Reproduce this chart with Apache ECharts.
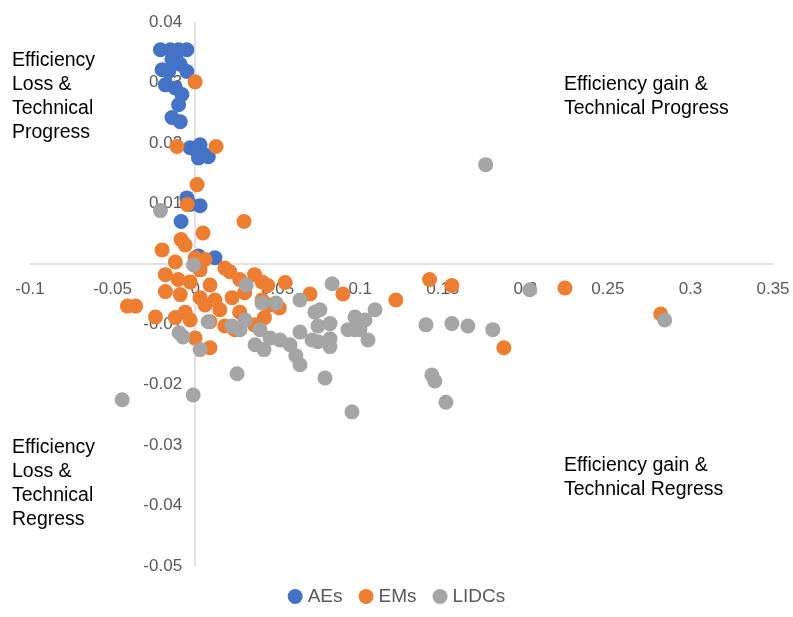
<!DOCTYPE html>
<html>
<head>
<meta charset="utf-8">
<script src="https://cdn.jsdelivr.net/npm/echarts@6/dist/echarts.min.js"></script>
<style>html,body{margin:0;padding:0;background:#fff}#chart{width:793px;height:617px}</style>
</head>
<body>
<div id="chart"></div>
<script>
// data points: [efficiency change, technical change]
var aes = [
  [-0.021,0.0354],[-0.015,0.0354],[-0.010,0.0354],[-0.005,0.0354],[-0.0115,0.0346],[-0.014,0.0338],
  [-0.020,0.0321],[-0.016,0.0318],[-0.009,0.033],[-0.005,0.0318],[-0.018,0.0296],[-0.012,0.0291],
  [-0.008,0.028],[-0.010,0.0263],[-0.014,0.0242],[-0.009,0.0235],[-0.003,0.0192],[0,0.0189],
  [0.003,0.0197],[0.002,0.0175],[0.006,0.018],[0.008,0.0177],[-0.005,0.0109],[-0.003,0.0098],
  [0.003,0.0096],[-0.0085,0.007],[0.002,0.0013],[0.012,0.001]
];
var ems = [
  [0,0.0301],[-0.011,0.0194],[0.0127,0.0194],[0.0012,0.0131],[-0.0048,0.0098],[0.0296,0.007],
  [0.0048,0.0051],[-0.0085,0.004],[-0.006,0.0031],[-0.02,0.0023],[0,0.001],[0.006,0.0007],
  [0.018,-0.0007],[-0.018,-0.0018],[-0.0103,-0.0026],[-0.003,-0.003],[0.003,-0.001],[0.009,-0.0035],
  [0.021,-0.0013],[0.027,-0.0026],[0.036,-0.0018],[0.0405,-0.003],[0.044,-0.0036],[0.0545,-0.0031],
  [-0.018,-0.0046],[-0.009,-0.0051],[0.003,-0.0056],[0.012,-0.006],[0.0224,-0.0056],[0.03,-0.0048],
  [0.0405,-0.006],[-0.041,-0.007],[-0.036,-0.007],[-0.024,-0.0088],[-0.006,-0.008],[0.006,-0.0068],
  [0.015,-0.0076],[0.027,-0.008],[0.045,-0.0068],[0.051,-0.0073],[-0.012,-0.0089],[-0.003,-0.0093],
  [0.009,-0.0096],[0.018,-0.0103],[0.024,-0.0109],[0.036,-0.0101],[0.042,-0.0089],[0,-0.0123],
  [0.009,-0.0139],[0.0696,-0.005],[0.0895,-0.005],[0.1216,-0.006],[0.142,-0.0026],[0.1555,-0.0036],
  [0.224,-0.004],[0.282,-0.0083],[0.187,-0.0139],[-0.012,0.0003]
];
var lidcs = [
  [-0.021,0.0088],[-0.001,-0.0002],[0.031,-0.0035],[0.0405,-0.0065],[0.049,-0.0065],[0.0635,-0.006],
  [0.083,-0.0033],[0.0726,-0.008],[0.0756,-0.0076],[0.0708,-0.0126],[0.0744,-0.0103],[0.0817,-0.0099],
  [0.0817,-0.0137],[0.0744,-0.0129],[0.0635,-0.0113],[0.0968,-0.0088],[0.0968,-0.0109],[0.1029,-0.0093],
  [0.1047,-0.0126],[0.109,-0.0076],[0.0998,-0.0109],[0.0926,-0.0109],[0.095,-0.0245],[0.0787,-0.0189],
  [0.061,-0.0152],[0.0635,-0.0167],[0.0575,-0.0134],[0.0514,-0.0126],[0.0454,-0.0123],[0.0393,-0.0109],
  [0.0363,-0.0134],[0.0272,-0.0109],[0.0303,-0.0093],[0.0224,-0.0103],[0.0079,-0.0096],[0.003,-0.0142],
  [-0.0097,-0.0114],[-0.0073,-0.0121],[-0.0012,-0.0217],[0.0254,-0.0182],[-0.0442,-0.0225],[0.1398,-0.0101],
  [0.1555,-0.0099],[0.1652,-0.0103],[0.1803,-0.0109],[0.1434,-0.0184],[0.1452,-0.0194],[0.1519,-0.0229],
  [0.176,0.0164],[0.2027,-0.0043],[0.2844,-0.0093],[0.0417,-0.0142],[0.0817,-0.0124]
];
var colors = ['#4472c4', '#ed7d31', '#a5a5a5'];

var chart = echarts.init(document.getElementById('chart'));
var labelStyle = { color: '#595959', fontSize: 17, fontFamily: 'Liberation Sans, Arial' };
var quadText = { fontSize: 19.5, fill: '#000', fontFamily: 'Liberation Sans, Arial', lineHeight: 24 };

// plot area: 743 x 544 px; zero lines sit inside it, axes shifted there by offset
chart.setOption({
  animation: false,
  color: colors,
  grid: { left: 30, right: 20, top: 22, bottom: 51, containLabel: false, outerBoundsMode: 'none' },
  xAxis: {
    type: 'value', min: -0.1, max: 0.35, interval: 0.05,
    offset: -544 * 5 / 9,
    axisLine: { onZero: false, lineStyle: { color: '#d9d9d9', width: 1.5 } },
    axisTick: { show: false }, splitLine: { show: false },
    axisLabel: Object.assign({ margin: 17, formatter: function (v) { return +v.toFixed(2); } }, labelStyle)
  },
  yAxis: {
    type: 'value', min: -0.05, max: 0.04, interval: 0.01,
    offset: -743 * 2 / 9,
    axisLine: { onZero: false, lineStyle: { color: '#d9d9d9', width: 1.5 } },
    axisTick: { show: false }, splitLine: { show: false },
    axisLabel: Object.assign({ margin: 13, formatter: function (v) { return +v.toFixed(2); } }, labelStyle)
  },
  legend: {
    bottom: 6, left: 'center', itemWidth: 15, itemHeight: 15, icon: 'circle', itemGap: 16,
    textStyle: { color: '#595959', fontSize: 19, fontFamily: 'Liberation Sans, Arial' },
    data: ['AEs', 'EMs', 'LIDCs']
  },
  graphic: [
    { type: 'text', left: 12, top: 49, style: Object.assign({ text: 'Efficiency\nLoss &\nTechnical\nProgress' }, quadText) },
    { type: 'text', left: 564, top: 73, style: Object.assign({ text: 'Efficiency gain &\nTechnical Progress' }, quadText) },
    { type: 'text', left: 12, top: 436, style: Object.assign({ text: 'Efficiency\nLoss &\nTechnical\nRegress' }, quadText) },
    { type: 'text', left: 564, top: 454, style: Object.assign({ text: 'Efficiency gain &\nTechnical Regress' }, quadText) }
  ],
  series: [
    { name: 'AEs', type: 'scatter', symbolSize: 15, itemStyle: { opacity: 1 }, data: aes },
    { name: 'EMs', type: 'scatter', symbolSize: 15, itemStyle: { opacity: 1 }, data: ems },
    { name: 'LIDCs', type: 'scatter', symbolSize: 15, itemStyle: { opacity: 1 }, data: lidcs }
  ]
});
</script>
</body>
</html>
